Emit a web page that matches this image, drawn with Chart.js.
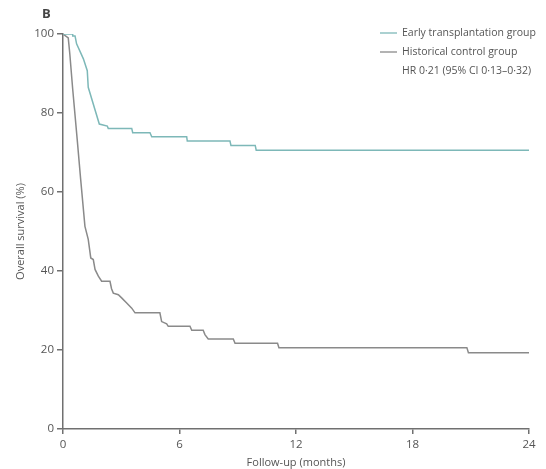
<!DOCTYPE html>
<html>
<head>
<meta charset="utf-8">
<script src="https://cdn.jsdelivr.net/npm/chart.js@4"></script>
<style>
  html, body { margin: 0; padding: 0; background: #fff; }
  #wrap { position: relative; width: 546px; height: 469px; }
</style>
</head>
<body>
<div id="wrap"><canvas id="survivalChart" width="546" height="469"></canvas></div>
<script>
// Early transplantation group (step corners included)
const earlyMonths = [0, 0.5, 0.5, 0.62, 0.7, 1.05, 1.25, 1.3, 1.87, 2.28, 2.33, 3.54, 3.59, 4.48, 4.57, 6.37, 6.4, 8.6, 8.65, 9.9, 9.95, 24];
const earlySurvival = [100, 100, 99.5, 99.5, 97.5, 93.7, 90.7, 86.5, 77.2, 76.7, 76.1, 76.1, 75.0, 75.0, 74.0, 74.0, 72.9, 72.9, 71.8, 71.8, 70.6, 70.6];

// Historical control group
const controlMonths = [0, 0.27, 0.35, 0.5, 0.73, 0.91, 1.13, 1.3, 1.43, 1.56, 1.65, 1.82, 1.99, 2.42, 2.5, 2.59, 2.85, 3.02, 3.28, 3.54, 3.71, 4.99, 5.08, 5.34, 5.42, 6.54, 6.63, 7.22, 7.31, 7.48, 8.77, 8.86, 11.05, 11.12, 20.8, 20.88, 24];
const controlSurvival = [100, 99, 95, 86, 73.4, 63.2, 51.3, 48.0, 43.3, 42.9, 40.4, 38.7, 37.4, 37.4, 35.5, 34.4, 34.0, 33.2, 31.9, 30.6, 29.4, 29.4, 27.2, 26.6, 26.0, 26.0, 25.0, 25.0, 23.9, 22.8, 22.8, 21.7, 21.7, 20.6, 20.6, 19.3, 19.3];

const xTicks = [0, 6, 12, 18, 24];
const yTicks = [0, 20, 40, 60, 80, 100];

const seriesLabels = ['Early transplantation group', 'Historical control group'];
const hrText = 'HR 0·21 (95% CI 0·13–0·32)';

const TEAL = '#7db8b8';
const GREY = '#8a8a8a';
const AXIS = '#707070';
const TEXT = '#555';
const FONT = "'Open Sans', 'Liberation Sans', Arial, sans-serif";

function toPoints(xs, ys) {
    return xs.map((x, i) => ({ x: x, y: ys[i] }));
}

// panel letter + legend text drawn on the canvas
const annotations = {
    id: 'annotations',
    afterDraw(chart) {
        const ctx = chart.ctx;
        ctx.save();
        ctx.fillStyle = '#444';
        ctx.font = 'bold 13px ' + FONT;
        ctx.textBaseline = 'middle';
        ctx.textAlign = 'left';
        ctx.fillText('B', 42, 14);

        ctx.font = '10.5px ' + FONT;
        ctx.fillStyle = TEXT;
        const rows = [
            { text: seriesLabels[0], color: TEAL, y: 33 },
            { text: seriesLabels[1], color: GREY, y: 52 },
            { text: hrText, color: null, y: 71 }
        ];
        rows.forEach(r => {
            if (r.color) {
                ctx.strokeStyle = r.color;
                ctx.lineWidth = 1.3;
                ctx.beginPath();
                ctx.moveTo(380, r.y);
                ctx.lineTo(397, r.y);
                ctx.stroke();
            }
            ctx.fillText(r.text, 402, r.y);
        });
        ctx.restore();
    }
};

const ctx = document.getElementById('survivalChart').getContext('2d');
new Chart(ctx, {
    type: 'line',
    data: {
        datasets: [
            {
                label: seriesLabels[0],
                data: toPoints(earlyMonths, earlySurvival),
                borderColor: TEAL,
                borderWidth: 1.5,
                pointRadius: 0,
                tension: 0,
                fill: false
            },
            {
                label: seriesLabels[1],
                data: toPoints(controlMonths, controlSurvival),
                borderColor: GREY,
                borderWidth: 1.5,
                pointRadius: 0,
                tension: 0,
                fill: false
            }
        ]
    },
    options: {
        responsive: false,
        animation: false,
        layout: { padding: { top: 34, right: 17, left: 0, bottom: 0 } },
        plugins: {
            legend: { display: false },
            tooltip: { enabled: false }
        },
        scales: {
            x: {
                type: 'linear',
                min: 0,
                max: 24,
                afterBuildTicks: s => { s.ticks = xTicks.map(v => ({ value: v })); },
                grid: { display: true, drawOnChartArea: false, drawTicks: true, tickLength: 5, color: AXIS, lineWidth: 1.5 },
                border: { display: true, color: AXIS, width: 1.5 },
                ticks: { color: TEXT, font: { family: FONT, size: 11.5 }, padding: 4, maxRotation: 0 },
                title: { display: true, text: 'Follow-up (months)', color: TEXT, font: { family: FONT, size: 11 }, padding: { top: 0, bottom: 0 } },
                afterFit: s => { s.height = 40; }
            },
            y: {
                min: 0,
                max: 100,
                afterBuildTicks: s => { s.ticks = yTicks.map(v => ({ value: v })); },
                grid: { display: true, drawOnChartArea: false, drawTicks: true, tickLength: 6, color: AXIS, lineWidth: 1.5 },
                border: { display: true, color: AXIS, width: 1.5 },
                ticks: { color: TEXT, font: { family: FONT, size: 11.5 }, padding: 3 },
                title: { display: true, text: 'Overall survival (%)', color: TEXT, font: { family: FONT, size: 11 }, padding: { top: 14, bottom: 0 } },
                afterFit: s => { s.width = 63; }
            }
        }
    },
    plugins: [annotations]
});
</script>
</body>
</html>
